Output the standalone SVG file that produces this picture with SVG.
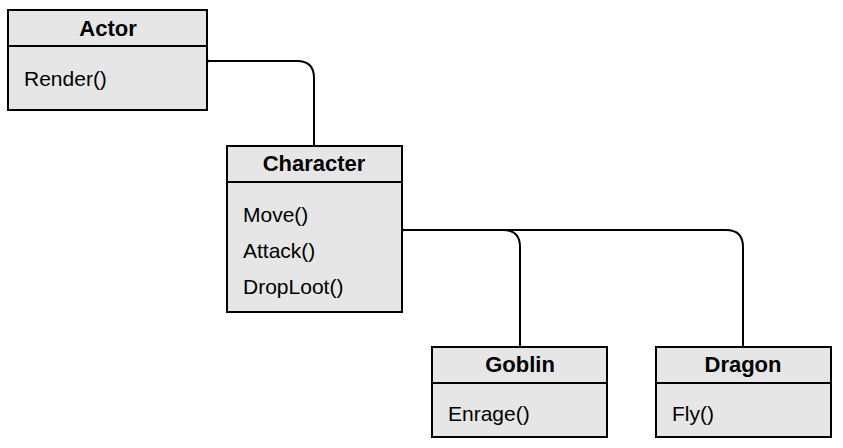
<svg xmlns="http://www.w3.org/2000/svg" width="843" height="448" viewBox="0 0 843 448">
<style>
.box{fill:#e6e6e6;stroke:#000;stroke-width:2}
.t{font-family:"Liberation Sans",Arial,sans-serif;font-size:22px;font-weight:bold;text-anchor:middle}
.m{font-family:"Liberation Sans",Arial,sans-serif;font-size:21px}
.c{fill:none;stroke:#000;stroke-width:2}
</style>
<defs><marker id="tri" markerWidth="30" markerHeight="20" refX="1" refY="10" orient="auto" markerUnits="userSpaceOnUse"><path d="M1,10 L27,1 L27,19 Z" fill="#fff" stroke="#000" stroke-width="2"/></marker></defs>
<rect width="843" height="448" fill="#fff"/>
<g id="connectors">
<path class="c" d="M314,146 V78 Q314,61 297,61 H209" marker-end="url(#tri)"/>
<path class="c" d="M520,347 V247 Q520,230 503,230 H404" marker-end="url(#tri)"/>
<path class="c" d="M743,347 V247 Q743,230 726,230 H430"/>
</g>
<g id="actor"><rect class="box" x="8" y="10" width="199" height="100"/><line class="c" x1="8" y1="46" x2="207" y2="46"/><text class="t" x="108" y="36">Actor</text><text class="m" x="24" y="86">Render()</text></g>
<g id="character"><rect class="box" x="227" y="146" width="175" height="166"/><line class="c" x1="227" y1="182" x2="402" y2="182"/><text class="t" x="314" y="171">Character</text><text class="m" x="243" y="222">Move()</text><text class="m" x="243" y="258">Attack()</text><text class="m" x="243" y="294">DropLoot()</text></g>
<g id="goblin"><rect class="box" x="432" y="347" width="175" height="90"/><line class="c" x1="432" y1="383" x2="607" y2="383"/><text class="t" x="520" y="372">Goblin</text><text class="m" x="448" y="421">Enrage()</text></g>
<g id="dragon"><rect class="box" x="656" y="347" width="175" height="90"/><line class="c" x1="656" y1="383" x2="831" y2="383"/><text class="t" x="743" y="372">Dragon</text><text class="m" x="672" y="421">Fly()</text></g>
</svg>
